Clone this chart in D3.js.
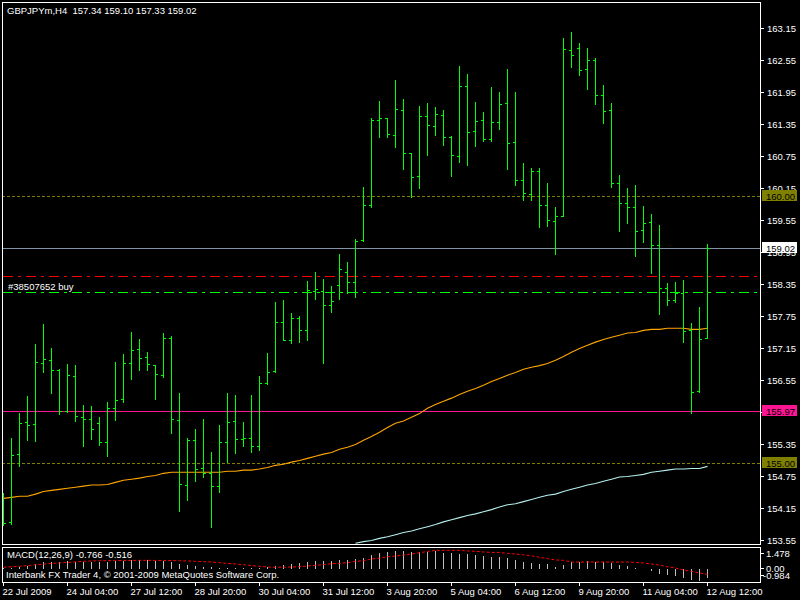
<!DOCTYPE html>
<html><head><meta charset="utf-8">
<script src="https://cdn.jsdelivr.net/npm/d3@7"></script>
<style>
html,body{margin:0;padding:0;background:#000;overflow:hidden}
svg text{font-family:"Liberation Sans",Arial,sans-serif;font-size:9.5px;fill:#fff;white-space:pre}
</style>
</head><body>
<svg id="c" width="800" height="600"></svg>
<script>
// ---------------- DATA ----------------
const titleText = "GBPJPYm,H4  157.34 159.10 157.33 159.02";
const orderLabel = "#38507652 buy";
const macdLabel = "MACD(12,26,9) -0.766 -0.516";
const copyright = "Interbank FX Trader 4, \u00A9 2001-2009 MetaQuotes Software Corp.";

const open = [153.93,153.89,155.16,155.76,155.72,156.87,156.93,156.74,155.97,156.63,
155.86,155.82,155.74,155.39,156.03,156.19,156.87,157.13,156.98,156.83,
156.64,157.34,155.80,154.58,155.43,154.90,154.81,154.56,155.39,155.78,
155.44,155.46,155.31,156.49,156.72,157.64,157.30,157.71,157.49,158.22,
158.22,157.96,158.33,158.58,158.39,159.18,159.83,161.43,161.46,161.14,
161.61,160.81,160.38,161.50,161.31,161.52,161.11,160.75,162.06,161.22,
161.43,161.07,161.39,161.74,161.01,160.30,160.04,160.47,159.83,159.53,
159.62,162.74,162.78,162.38,162.55,161.89,161.61,160.24,159.87,159.79,
159.36,159.51,159.08,158.28,158.05,158.18,157.49,156.34,157.34];
const high = [154.43,155.46,155.93,156.25,157.23,157.60,157.15,156.76,156.85,156.83,
156.08,156.06,155.86,156.14,156.89,157.04,157.45,157.32,157.08,156.83,
157.43,157.38,156.31,155.46,155.63,155.82,155.20,155.71,156.31,156.27,
155.76,156.27,156.63,157.06,158.01,158.05,157.81,157.75,158.41,158.58,
158.44,158.31,158.91,158.76,159.19,160.17,161.46,161.78,161.46,162.18,
161.82,160.81,161.69,161.74,161.67,161.61,161.13,162.44,162.29,161.76,
161.58,162.04,161.95,162.38,161.95,160.62,160.53,160.53,160.24,159.79,
162.96,163.08,162.87,162.78,162.59,162.08,161.74,160.39,160.15,160.21,
159.81,159.66,159.46,158.37,158.39,158.43,157.62,157.92,159.10];
const low = [153.83,153.85,154.94,155.43,155.41,156.70,156.31,155.91,155.95,155.78,
155.31,155.44,155.33,155.12,155.80,156.14,156.57,156.74,156.74,156.19,
156.61,155.56,154.09,154.30,154.66,154.73,153.79,154.45,155.01,155.18,
155.31,155.20,155.24,156.48,156.70,157.30,157.24,157.26,157.30,158.07,
156.87,157.83,158.07,158.19,158.11,159.16,159.79,161.11,161.11,160.92,
160.51,159.98,160.15,160.77,161.14,160.96,160.38,160.64,160.58,160.94,
161.03,161.03,161.26,160.51,160.21,159.93,159.93,159.42,159.44,158.91,
159.62,162.42,162.27,162.01,161.73,161.37,160.17,159.34,159.49,158.88,
159.14,158.56,157.79,157.96,158.01,157.26,155.93,156.32,157.33];
const close = [153.87,155.14,155.74,155.71,156.89,156.94,156.74,155.97,156.64,155.88,
155.82,155.63,155.39,156.03,156.18,156.87,157.11,156.96,156.85,156.66,
157.34,155.82,154.60,155.43,154.88,154.81,154.56,155.39,155.76,155.44,
155.46,155.31,156.49,156.70,157.64,157.30,157.71,157.49,158.24,158.26,
157.96,158.03,158.63,158.39,159.16,159.83,161.43,161.46,161.16,161.63,
160.81,160.36,161.50,161.33,161.54,161.11,160.77,162.06,161.20,161.41,
161.07,161.39,161.73,160.99,160.30,160.06,160.47,159.83,159.55,159.62,
162.76,162.64,162.36,162.55,161.89,161.59,160.24,159.87,159.79,159.34,
159.49,159.08,158.28,158.05,158.18,157.47,156.32,157.32,159.02];

// orange moving average
const maFast = [154.33,154.35,154.37,154.37,154.41,154.46,154.48,154.50,154.52,154.54,
154.56,154.58,154.58,154.59,154.63,154.67,154.69,154.71,154.74,154.76,
154.80,154.82,154.82,154.82,154.82,154.82,154.82,154.82,154.84,154.84,
154.86,154.86,154.88,154.91,154.95,154.97,155.01,155.04,155.08,155.12,
155.16,155.19,155.25,155.29,155.34,155.42,155.49,155.57,155.66,155.74,
155.78,155.85,155.92,156.02,156.09,156.15,156.21,156.28,156.34,156.39,
156.45,156.52,156.58,156.64,156.69,156.75,156.79,156.82,156.86,156.92,
156.99,157.07,157.14,157.20,157.26,157.31,157.35,157.39,157.43,157.44,
157.48,157.50,157.50,157.52,157.52,157.52,157.50,157.50,157.52];
// pale cyan moving average (below the visible range before bar 44)
const maSlow = [null,null,null,null,null,null,null,null,null,null,
null,null,null,null,null,null,null,null,null,null,
null,null,null,null,null,null,null,null,null,null,
null,null,null,null,null,null,null,null,null,null,
null,null,null,null,153.49,153.52,153.54,153.58,153.61,153.65,
153.69,153.72,153.76,153.80,153.84,153.89,153.93,153.97,154.01,154.04,
154.08,154.12,154.17,154.21,154.23,154.27,154.31,154.35,154.39,154.41,
154.46,154.50,154.54,154.58,154.61,154.65,154.69,154.73,154.74,154.76,
154.78,154.82,154.84,154.86,154.88,154.88,154.89,154.89,154.93];

const macdMain = [0.10,0.12,0.20,0.28,0.42,0.55,0.60,0.58,0.62,0.60,
0.58,0.57,0.55,0.58,0.62,0.68,0.72,0.72,0.70,0.66,
0.68,0.58,0.42,0.36,0.26,0.18,0.15,0.12,0.12,0.10,
0.10,0.08,0.10,0.13,0.26,0.37,0.45,0.53,0.61,0.69,
0.69,0.69,0.77,0.77,0.84,0.92,1.16,1.32,1.40,1.478,
1.47,1.40,1.40,1.40,1.46,1.32,1.32,1.24,1.24,1.16,
1.08,1.00,1.00,0.92,0.77,0.61,0.50,0.41,0.41,0.19,
0.33,0.57,0.57,0.66,0.57,0.57,0.49,0.33,0.25,0.08,
0.03,-0.20,-0.37,-0.49,-0.60,-0.77,-0.87,-0.984,-0.766];
const macdSignal = [0.06,0.10,0.14,0.20,0.27,0.32,0.38,0.42,0.46,0.50,
0.55,0.58,0.60,0.60,0.61,0.62,0.62,0.63,0.63,0.62,
0.62,0.61,0.60,0.58,0.55,0.52,0.49,0.44,0.38,0.33,
0.27,0.20,0.14,0.08,0.06,0.07,0.08,0.11,0.16,0.22,
0.27,0.36,0.38,0.44,0.55,0.60,0.74,0.80,0.93,0.98,
1.07,1.15,1.25,1.36,1.45,1.45,1.45,1.45,1.40,1.37,
1.32,1.28,1.28,1.20,1.15,1.08,1.00,0.88,0.77,0.66,
0.63,0.49,0.49,0.49,0.49,0.49,0.49,0.49,0.49,0.46,
0.41,0.33,0.24,0.10,0.00,-0.16,-0.27,-0.41,-0.516];

const priceTicks = [163.15,162.55,161.95,161.35,160.75,160.15,159.55,158.95,158.35,157.75,157.15,156.55,155.95,155.35,154.75,154.15,153.55];
const priceMin = 153.55, priceMax = 163.15;
const macdMin = -0.984, macdMax = 1.478;
const macdTicks = [1.478, 0, -0.984];
const macdTickLabels = ["1.478","0.00","-0.984"];

const timeLabelBars = [0,8,16,24,32,40,48,56,64,72,80,88];
const timeLabels = ["22 Jul 2009","24 Jul 04:00","27 Jul 12:00","28 Jul 20:00","30 Jul 04:00","31 Jul 12:00","3 Aug 20:00","5 Aug 04:00","6 Aug 12:00","9 Aug 20:00","11 Aug 04:00","12 Aug 12:00"];

const levelPrices = [160.00, 159.02, 155.97, 155.00];
const levelLabels = ["160.00","159.02","155.97","155.00"];
const levelLineColors = ["#808000", "#8494a8", "#ff1493", "#808000"];
const levelBoxColors = ["#808000", "#ffffff", "#ff1493", "#808000"];
const levelDashed = [true, false, false, true];
const orderPrice = 158.20;
const stopPrice = 158.50;

// ---------------- DRAW ----------------
const n = close.length;
const svg = d3.select("#c");
svg.append("rect").attr("width",800).attr("height",600).attr("fill","#000");

const main = {l:2, r:760, t:2, b:544};
const sub = {t:547, b:582};

const x = d3.scaleLinear().domain([0, n-1]).range([3, 707]);
const y = d3.scaleLinear().domain([priceMin, priceMax]).range([540, 28]);
const ym = d3.scaleLinear().domain([macdMin, macdMax]).range([580, 550]);
const cx = i => Math.round(x(i)) + 0.5;
const cy = v => Math.round(y(v)) + 0.5;
const cym = v => Math.round(ym(v)) + 0.5;

const defs = svg.append("defs");
defs.append("clipPath").attr("id","clipMain").append("rect")
  .attr("x", main.l+1).attr("y", main.t+1).attr("width", main.r-main.l-1).attr("height", main.b-main.t-1);
defs.append("clipPath").attr("id","clipSub").append("rect")
  .attr("x", main.l+1).attr("y", sub.t+1).attr("width", main.r-main.l-1).attr("height", sub.b-sub.t-1);

const colors = {bar:"#00ff00", maFast:"#ffa500", maSlow:"#b4eeee",
  stop:"#ff0000", order:"#00ff00", hist:"#c0c0c0", signal:"#ff0000", frame:"#ffffff"};

// price axis (right)
const yAxis = d3.axisRight(y).tickValues(priceTicks).tickSize(4).tickPadding(3).tickFormat(d3.format(".2f"));
const gAx = svg.append("g").attr("transform",`translate(${main.r},0)`).call(yAxis);
gAx.select(".domain").remove();
gAx.selectAll(".tick line").attr("stroke","#fff").attr("shape-rendering","crispEdges");
gAx.selectAll(".tick text").attr("fill","#fff").style("font-family","Liberation Sans, Arial, sans-serif").style("font-size","9.5px");

// horizontal level lines (drawn as 1px filled strips)
const gMain = svg.append("g").attr("clip-path","url(#clipMain)");
levelPrices.forEach((p,i) => {
  const row = Math.round(y(p));
  if (levelDashed[i]) {
    gMain.append("line")
      .attr("x1", main.l).attr("x2", main.r)
      .attr("y1", row + 0.5).attr("y2", row + 0.5)
      .style("stroke", levelLineColors[i])
      .attr("stroke-dasharray", "3,2")
      .attr("shape-rendering","crispEdges");
  } else {
    gMain.append("rect")
      .attr("x", main.l).attr("width", main.r - main.l)
      .attr("y", row).attr("height", 1)
      .style("fill", levelLineColors[i]);
  }
});
// order lines (dash-dot)
[[stopPrice, colors.stop],[orderPrice, colors.order]].forEach(([p,c]) => {
  gMain.append("line").attr("x1", main.l+1).attr("x2", main.r)
    .attr("y1", cy(p)).attr("y2", cy(p)).style("stroke", c)
    .attr("stroke-dasharray","10,5,3,5").attr("shape-rendering","crispEdges");
});

// moving averages
const lineGen = d3.line().defined(d => d.v !== null).x(d => cx(d.i)).y(d => y(d.v));
gMain.append("path").datum(maFast.map((v,i)=>({i,v}))).attr("d", lineGen)
  .attr("fill","none").attr("stroke", colors.maFast).attr("stroke-width",1.1);
gMain.append("path").datum(maSlow.map((v,i)=>({i,v}))).attr("d", lineGen)
  .attr("fill","none").attr("stroke", colors.maSlow).attr("stroke-width",1.1);

// OHLC bars
gMain.append("g").attr("stroke", colors.bar).attr("stroke-width",1).attr("shape-rendering","crispEdges")
  .selectAll("path").data(d3.range(n)).join("path")
  .attr("d", i => {
    const X = cx(i), yo = cy(open[i]), yh = cy(high[i]), yl = cy(low[i]), yc = cy(close[i]);
    return `M${X},${yh-0.5}V${yl+0.5}M${X-2.5},${yo}H${X-0.5}M${X+0.5},${yc}H${X+2.5}`;
  });

// right-side price boxes
const gBox = svg.append("g");
levelPrices.forEach((p,i) => {
  const yy = Math.round(y(p));
  gBox.append("rect").attr("x", 762).attr("y", yy-6).attr("width", 35).attr("height", 11)
    .attr("fill", levelBoxColors[i]);
  gBox.append("text").attr("x", 766).attr("y", yy+4).style("fill","#000").text(levelLabels[i]);
});

// texts in main window
svg.append("text").attr("x", 7).attr("y", 14).text(titleText);
svg.append("text").attr("x", 8).attr("y", 290).text(orderLabel);

// MACD window
const gSub = svg.append("g").attr("clip-path","url(#clipSub)");
gSub.append("g").attr("stroke", colors.hist).attr("shape-rendering","crispEdges")
  .selectAll("line").data(d3.range(n)).join("line")
  .attr("x1", i => cx(i)).attr("x2", i => cx(i))
  .attr("y1", cym(0)).attr("y2", i => cym(macdMain[i]));
gSub.append("path").datum(macdSignal.map((v,i)=>({i,v})))
  .attr("d", d3.line().x(d => cx(d.i)).y(d => ym(d.v)))
  .attr("fill","none").attr("stroke", colors.signal).attr("stroke-dasharray","3,2");
svg.append("text").attr("x", 7).attr("y", 558).text(macdLabel);
svg.append("text").attr("x", 6).attr("y", 578).text(copyright);

// MACD axis
const macdLabelY = v => Math.min(Math.max(ym(v), 553), 575);
macdTicks.forEach((v,i) => {
  const yy = Math.round(macdLabelY(v)) + 0.5;
  svg.append("line").attr("x1", main.r).attr("x2", main.r+4).attr("y1", yy).attr("y2", yy)
    .attr("stroke","#fff").attr("shape-rendering","crispEdges");
  svg.append("text").attr("x", v < 0 ? 763 : 766).attr("y", yy+3.5).text(macdTickLabels[i]);
});

// frames
const frame = svg.append("g").attr("fill","none").attr("stroke", colors.frame).attr("shape-rendering","crispEdges");
frame.append("rect").attr("x", main.l+0.5).attr("y", main.t+0.5).attr("width", main.r-main.l).attr("height", main.b-main.t);
frame.append("rect").attr("x", main.l+0.5).attr("y", sub.t+0.5).attr("width", main.r-main.l).attr("height", sub.b-sub.t);

// time axis
timeLabelBars.forEach((b,k) => {
  const X = cx(b);
  svg.append("line").attr("x1", X).attr("x2", X).attr("y1", sub.b).attr("y2", sub.b+4)
    .attr("stroke","#fff").attr("shape-rendering","crispEdges");
  svg.append("text").attr("x", X-1).attr("y", 595).text(timeLabels[k]);
});
</script>
</body></html>
